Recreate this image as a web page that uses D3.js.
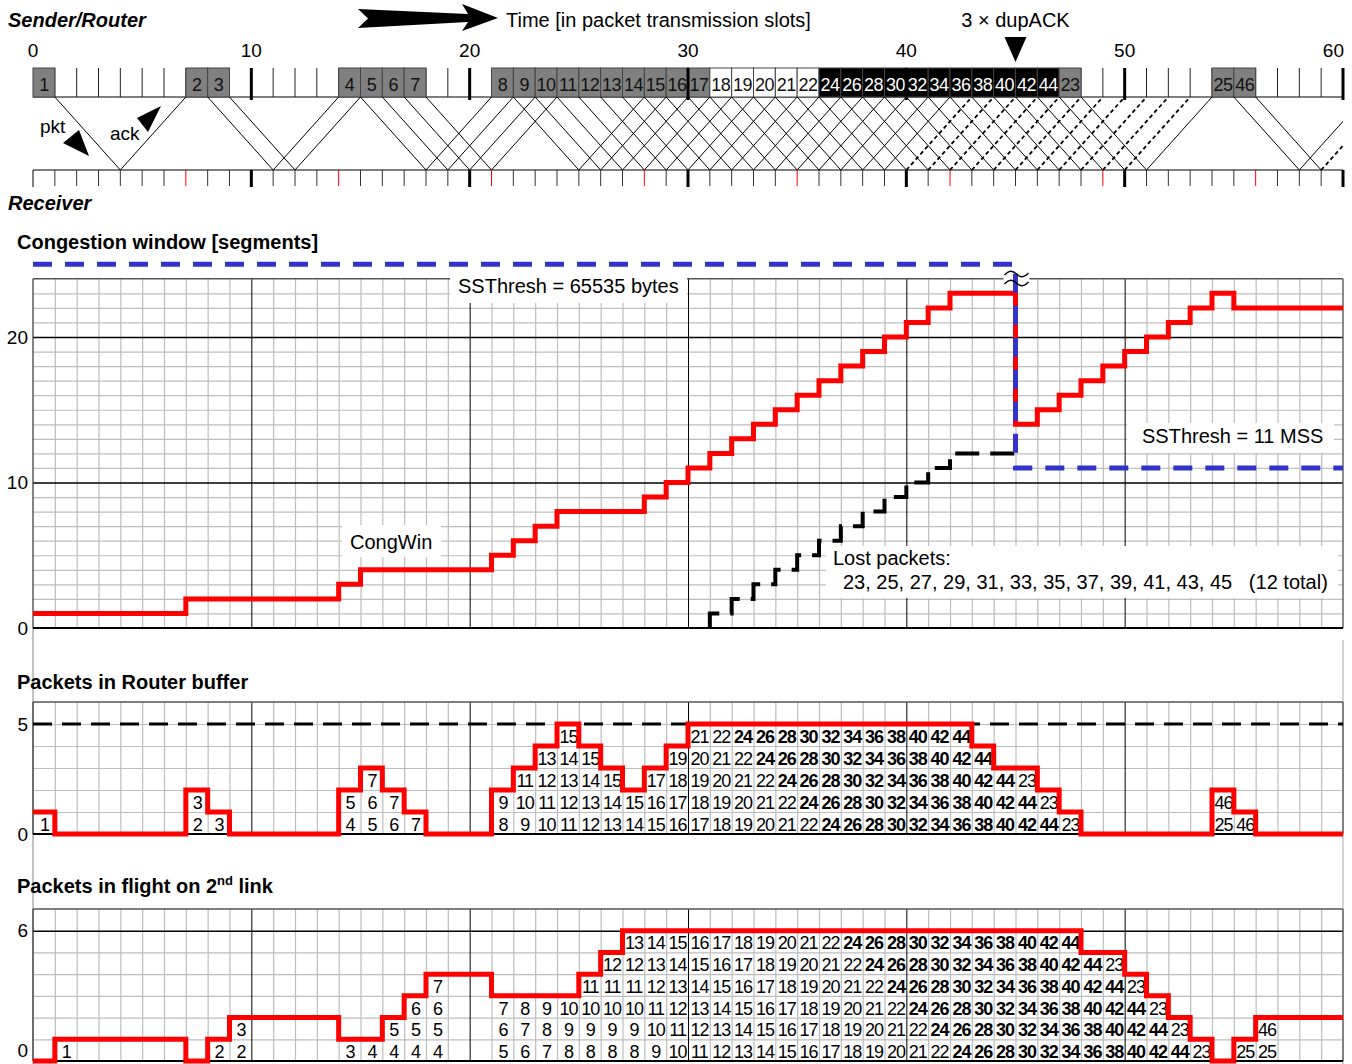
<!DOCTYPE html>
<html>
<head>
<meta charset="utf-8">
<script src="https://cdn.jsdelivr.net/npm/d3@7"></script>
<style>
  body { margin: 0; background: #fff; }
  svg text { font-family: "Liberation Sans", Arial, sans-serif; fill: #000; }
</style>
</head>
<body>
<svg id="chart" width="1352" height="1064"></svg>
<script>
// ---- data ----
// packets put on the bottleneck link, by slot
const sentSlots = [0, 7, 8, 14, 15, 16, 17, 21, 22, 23, 24, 25, 26, 27, 28, 29, 30, 31, 32, 33, 34, 35, 36, 37, 38, 39, 40, 41, 42, 43, 44, 45, 46, 47, 54, 55];
const sentPackets = [1, 2, 3, 4, 5, 6, 7, 8, 9, 10, 11, 12, 13, 14, 15, 16, 17, 18, 19, 20, 21, 22, 24, 26, 28, 30, 32, 34, 36, 38, 40, 42, 44, 23, 25, 46];
const whitePackets = [18, 19, 20, 21, 22];
const blackPackets = [24, 26, 28, 30, 32, 34, 36, 38, 40, 42, 44];
const dupAckPackets = [24, 26, 28, 30, 32, 34, 36, 38, 40, 42, 44, 46];
const rttTicks = [7, 14, 21, 28, 35, 42, 49, 56];
const oneWay = 3; // slots from router to receiver

// congestion window (step starts)
const cwndSlots = [0, 7, 14, 15, 21, 22, 23, 24, 28, 29, 30, 31, 32, 33, 34, 35, 36, 37, 38, 39, 40, 41, 42, 45, 46, 47, 48, 49, 50, 51, 52, 53, 54, 55, 60];
const cwndValues = [1, 2, 3, 4, 5, 6, 7, 8, 9, 10, 11, 12, 13, 14, 15, 16, 17, 18, 19, 20, 21, 22, 23, 14, 15, 16, 17, 18, 19, 20, 21, 22, 23, 22, 22];
// ssthresh (25 = off the scale, 65535 bytes)
const ssthreshSlots = [0, 45, 60];
const ssthreshValues = [25, 11, 11];
// cumulative lost packets
const lostSlots = [31, 31, 32, 33, 34, 35, 36, 37, 38, 39, 40, 41, 42, 45];
const lostValues = [0, 1, 2, 3, 4, 5, 6, 7, 8, 9, 10, 11, 12, 12];

// router buffer, one value per slot 0..59
const bufferCount = [1,0,0,0,0,0,0,2,1,0,0,0,0,0,2,3,2,1,0,0,0,2,3,4,5,4,3,2,3,4,5,5,5,5,5,5,5,5,5,5,5,5,5,4,3,3,2,1,0,0,0,0,0,0,2,1,0,0,0,0];
const bufferLabelSlots = [0, 7, 8, 14, 15, 16, 17, 21, 22, 23, 24, 25, 26, 27, 28, 29, 30, 31, 32, 33, 34, 35, 36, 37, 38, 39, 40, 41, 42, 43, 44, 45, 46, 47, 54, 55];
const bufferLabels = ["1", "2 3", "3", "4 5", "5 6 7", "6 7", "7", "8 9", "9 10 11", "10 11 12 13",
  "11 12 13 14 15", "12 13 14 15", "13 14 15", "14 15", "15 16 17", "16 17 18 19", "17 18 19 20 21",
  "18 19 20 21 22", "19 20 21 22 24", "20 21 22 24 26", "21 22 24 26 28", "22 24 26 28 30",
  "24 26 28 30 32", "26 28 30 32 34", "28 30 32 34 36", "30 32 34 36 38", "32 34 36 38 40",
  "34 36 38 40 42", "36 38 40 42 44", "38 40 42 44", "40 42 44", "42 44 23", "44 23", "23", "25 46", "46"];

// packets in flight on 2nd link, one value per slot 0..59
const flightCount = [0,1,1,1,1,1,1,0,1,2,2,2,2,2,1,1,2,3,4,4,4,3,3,3,3,4,5,6,6,6,6,6,6,6,6,6,6,6,6,6,6,6,6,6,6,6,6,6,5,5,4,3,2,1,0,1,2,2,2,2];
const flightLabelSlots = [1, 8, 9, 14, 15, 16, 17, 18, 21, 22, 23, 24, 25, 26, 27, 28, 29, 30, 31, 32, 33, 34, 35, 36, 37, 38, 39, 40, 41, 42, 43, 44, 45, 46, 47, 48, 49, 50, 51, 52, 53, 55, 56];
const flightLabels = ["1", "2", "2 3", "3", "4", "4 5", "4 5 6", "4 5 6 7", "5 6 7", "6 7 8", "7 8 9", "8 9 10",
  "8 9 10 11", "8 9 10 11 12", "8 9 10 11 12 13", "9 10 11 12 13 14", "10 11 12 13 14 15",
  "11 12 13 14 15 16", "12 13 14 15 16 17", "13 14 15 16 17 18", "14 15 16 17 18 19",
  "15 16 17 18 19 20", "16 17 18 19 20 21", "17 18 19 20 21 22", "18 19 20 21 22 24",
  "19 20 21 22 24 26", "20 21 22 24 26 28", "21 22 24 26 28 30", "22 24 26 28 30 32",
  "24 26 28 30 32 34", "26 28 30 32 34 36", "28 30 32 34 36 38", "30 32 34 36 38 40",
  "32 34 36 38 40 42", "34 36 38 40 42 44", "36 38 40 42 44", "38 40 42 44 23", "40 42 44 23",
  "42 44 23", "44 23", "23", "25", "25 46"];

// ---- drawing ----
const svg = d3.select("#chart");
const x = d3.scaleLinear().domain([0, 60]).range([33, 1343]);
const yc = d3.scaleLinear().domain([0, 24]).range([628, 278.8]);
const yb = d3.scaleLinear().domain([0, 6]).range([834, 702]);
const yf = d3.scaleLinear().domain([0, 7]).range([1061, 909]);
const RED = "#ff0000";
const minor = "#bdbdbd";

// sender / receiver timeline
const yTop = 97, yBot = 170, boxTop = 68;

svg.append("text").attr("x", 8).attr("y", 27).attr("font-size", 20)
  .attr("font-weight", "bold").attr("font-style", "italic").text("Sender/Router");
svg.append("text").attr("x", 8).attr("y", 210).attr("font-size", 20)
  .attr("font-weight", "bold").attr("font-style", "italic").text("Receiver");

// big time arrow
svg.append("polygon")
  .attr("points", "358,9 468,14 462,4 498,18 462,31 468,22 358,28 368,18.5")
  .attr("fill", "#000");
svg.append("text").attr("x", 506).attr("y", 27).attr("font-size", 20)
  .text("Time [in packet transmission slots]");
svg.append("text").attr("x", x(45)).attr("y", 27).attr("font-size", 20)
  .attr("text-anchor", "middle").text("3 \u00d7 dupACK");
svg.append("polygon")
  .attr("points", `${x(45) - 11},37 ${x(45) + 11},37 ${x(45)},62`).attr("fill", "#000");

// slot numbers
[0, 10, 20, 30, 40, 50, 60].forEach((v) => {
  svg.append("text").attr("x", v === 60 ? x(v) + 1 : x(v)).attr("y", 57)
    .attr("font-size", 19).attr("text-anchor", v === 60 ? "end" : "middle").text(v);
});

svg.append("line").attr("x1", x(0)).attr("x2", x(60)).attr("y1", yTop).attr("y2", yTop)
  .attr("stroke", "#000").attr("stroke-width", 1.2);
svg.append("line").attr("x1", x(0)).attr("x2", x(60)).attr("y1", yBot).attr("y2", yBot)
  .attr("stroke", "#000").attr("stroke-width", 1.2);

const slots = d3.range(0, 61);
// sender row ticks
svg.append("g").selectAll("line").data(slots.filter((d) => d % 10 !== 0)).join("line")
  .attr("x1", (d) => x(d)).attr("x2", (d) => x(d)).attr("y1", boxTop).attr("y2", yTop)
  .attr("stroke", "#222").attr("stroke-width", 1);
// receiver row ticks
svg.append("g").selectAll("line").data(slots.filter((d) => d % 10 !== 0)).join("line")
  .attr("x1", (d) => x(d)).attr("x2", (d) => x(d)).attr("y1", yBot).attr("y2", yBot + 16)
  .attr("stroke", (d) => (rttTicks.includes(d) ? RED : "#333")).attr("stroke-width", 1);

// transmitted packets
const boxes = svg.append("g");
sentSlots.forEach((s, i) => {
  const p = sentPackets[i];
  const fill = blackPackets.includes(p) ? "#000" : whitePackets.includes(p) ? "#fff" : "#808080";
  boxes.append("rect").attr("x", x(s)).attr("y", boxTop).attr("width", x(s + 1) - x(s))
    .attr("height", yTop - boxTop).attr("fill", fill).attr("stroke", "#444").attr("stroke-width", 1);
  boxes.append("text").attr("x", (x(s) + x(s + 1)) / 2).attr("y", 91).attr("font-size", 18)
    .attr("text-anchor", "middle").style("fill", blackPackets.includes(p) ? "#fff" : "#111")
    .style("letter-spacing", "-0.5px").text(p);
});

// bold decade ticks
svg.append("g").selectAll("line").data(slots.filter((d) => d % 10 === 0 && d > 0)).join("line")
  .attr("x1", (d) => x(d)).attr("x2", (d) => x(d)).attr("y1", boxTop).attr("y2", yTop + 3)
  .attr("stroke", "#000").attr("stroke-width", 3);
svg.append("g").selectAll("line").data(slots.filter((d) => d % 10 === 0)).join("line")
  .attr("x1", (d) => x(d)).attr("x2", (d) => x(d)).attr("y1", yBot).attr("y2", yBot + 17)
  .attr("stroke", "#000").attr("stroke-width", (d) => (d === 0 ? 1 : 3));

// packet and ack paths
svg.append("clipPath").attr("id", "clipTime").append("rect")
  .attr("x", x(0)).attr("y", 60).attr("width", x(60) - x(0)).attr("height", 140);
const paths = svg.append("g").attr("clip-path", "url(#clipTime)");
sentSlots.forEach((s, i) => {
  const p = sentPackets[i];
  paths.append("line").attr("x1", x(s + 1)).attr("y1", yTop)
    .attr("x2", x(s + 1 + oneWay)).attr("y2", yBot)
    .attr("stroke", "#000").attr("stroke-width", 1);
  const dup = dupAckPackets.includes(p);
  paths.append("line").attr("x1", x(s + 1 + oneWay)).attr("y1", yBot)
    .attr("x2", x(s + 1 + 2 * oneWay)).attr("y2", yTop)
    .attr("stroke", "#000").attr("stroke-width", dup ? 1.8 : 1)
    .attr("stroke-dasharray", dup ? "4,3" : null);
});

// pkt / ack annotations
svg.append("text").attr("x", 40).attr("y", 133).attr("font-size", 19).text("pkt");
svg.append("polygon").attr("points", "63,143 79,130 89,156").attr("fill", "#000");
svg.append("text").attr("x", 110).attr("y", 140).attr("font-size", 19).text("ack");
svg.append("polygon").attr("points", "137,118 161,106 148,132").attr("fill", "#000");

// ---- generic grid ----
function drawGrid(y, ymax, majors, minorVals) {
  const g = svg.append("g");
  const y0 = y(0), y1 = y(ymax);
  // minor verticals
  g.append("g").attr("transform", `translate(0,${y0})`)
    .call(d3.axisBottom(x).tickValues(slots.filter((d) => d % 10 !== 0 && d < 60))
      .tickSize(-(y0 - y1)).tickFormat(""))
    .call((a) => a.select(".domain").remove())
    .selectAll("line").attr("stroke", minor).attr("stroke-width", 1.2);
  // minor horizontals
  g.append("g").attr("transform", `translate(${x(0)},0)`)
    .call(d3.axisRight(y).tickValues(minorVals).tickSize(x(60) - x(0)).tickFormat(""))
    .call((a) => a.select(".domain").remove())
    .selectAll("line").attr("stroke", minor).attr("stroke-width", 1.2);
  // decade verticals
  g.append("g").attr("transform", `translate(0,${y0})`)
    .call(d3.axisBottom(x).tickValues([10, 20, 30, 40, 50]).tickSize(-(y0 - y1)).tickFormat(""))
    .call((a) => a.select(".domain").remove())
    .selectAll("line").attr("stroke", "#000").attr("stroke-width", 1);
  // major horizontals
  g.append("g").attr("transform", `translate(${x(0)},0)`)
    .call(d3.axisRight(y).tickValues(majors).tickSize(x(60) - x(0)).tickFormat(""))
    .call((a) => a.select(".domain").remove())
    .selectAll("line").attr("stroke", "#000").attr("stroke-width", 1.5);
  // frame
  g.append("line").attr("x1", x(0)).attr("x2", x(60)).attr("y1", y1).attr("y2", y1)
    .attr("stroke", "#555").attr("stroke-width", 1.5);
  g.append("line").attr("x1", x(60)).attr("x2", x(60)).attr("y1", y1).attr("y2", y0)
    .attr("stroke", "#666").attr("stroke-width", 1.5);
  g.append("line").attr("x1", x(0)).attr("x2", x(0)).attr("y1", y1).attr("y2", y0)
    .attr("stroke", "#333").attr("stroke-width", 1.2);
  g.append("line").attr("x1", x(0)).attr("x2", x(60)).attr("y1", y0).attr("y2", y0)
    .attr("stroke", "#000").attr("stroke-width", 2);
  return g;
}

function yLabels(y, values) {
  return svg.append("g").attr("transform", `translate(${x(0)},0)`)
    .call(d3.axisLeft(y).tickValues(values).tickSize(0).tickPadding(5).tickFormat(d3.format("d")))
    .call((a) => a.select(".domain").remove())
    .call((a) => a.selectAll("text").attr("font-size", 19)
      .attr("font-family", "Liberation Sans, Arial, sans-serif").style("fill", "#000"));
}

const stepLine = (y) => d3.line().x((d) => x(d[0])).y((d) => y(d[1])).curve(d3.curveStepAfter);
const perSlot = (arr) => arr.map((v, i) => [i, v]).concat([[60, arr[arr.length - 1]]]);

// side lines running through the lower panels
svg.append("line").attr("x1", x(0)).attr("x2", x(0)).attr("y1", 628).attr("y2", 1064)
  .attr("stroke", "#888").attr("stroke-width", 1);
svg.append("line").attr("x1", x(60)).attr("x2", x(60)).attr("y1", 640).attr("y2", 1064)
  .attr("stroke", "#aaa").attr("stroke-width", 1);

// ---- congestion window ----
svg.append("text").attr("x", 17).attr("y", 249).attr("font-size", 20).attr("font-weight", "bold")
  .text("Congestion window [segments]");
drawGrid(yc, 24, [10, 20], d3.range(1, 24).filter((d) => d % 10 !== 0));
yLabels(yc, [0, 10, 20]);

function labelBox(x0, y0, x1, y1) {
  svg.append("rect").attr("x", x0).attr("y", y0).attr("width", x1 - x0).attr("height", y1 - y0)
    .attr("fill", "#fff");
}
labelBox(450, 270, 687, 303);
svg.append("text").attr("x", 458).attr("y", 293).attr("font-size", 20).text("SSThresh = 65535 bytes");
labelBox(342, 525, 441, 557);
svg.append("text").attr("x", 350).attr("y", 549).attr("font-size", 20).text("CongWin");
labelBox(1127, 423, 1334, 453);
svg.append("text").attr("x", 1142).attr("y", 443).attr("font-size", 20).text("SSThresh = 11 MSS");
labelBox(826, 546, 1338, 598);
svg.append("text").attr("x", 833).attr("y", 565).attr("font-size", 20).text("Lost packets:");
svg.append("text").attr("x", 843).attr("y", 589).attr("font-size", 20).attr("xml:space", "preserve")
  .text("23, 25, 27, 29, 31, 33, 35, 37, 39, 41, 43, 45   (12 total)");

svg.append("path").datum(cwndSlots.map((s, i) => [s, cwndValues[i]]))
  .attr("d", stepLine(yc)).attr("fill", "none").attr("stroke", RED).attr("stroke-width", 5)
  .attr("stroke-linejoin", "miter");
svg.append("path").datum(lostSlots.map((s, i) => [s, lostValues[i]]))
  .attr("d", stepLine(yc)).attr("fill", "none").attr("stroke", "#000").attr("stroke-width", 4)
  .attr("stroke-dasharray", "24,11");
// break mark where ssthresh leaves the scale
svg.append("rect").attr("x", x(45) - 12).attr("y", 268).attr("width", 26).attr("height", 22).attr("fill", "#fff");
svg.append("path").datum(ssthreshSlots.map((s, i) => [s, ssthreshValues[i]]))
  .attr("d", stepLine(yc)).attr("fill", "none").attr("stroke", "#3333cc").attr("stroke-width", 5)
  .attr("stroke-dasharray", "19,13");
svg.append("path")
  .attr("d", `M${x(45) - 11},275 q6,-7 12,-1 t12,-1 M${x(45) - 11},284 q6,-7 12,-1 t12,-1`)
  .attr("fill", "none").attr("stroke", "#000").attr("stroke-width", 1.3);

// ---- router buffer ----
svg.append("text").attr("x", 17).attr("y", 689).attr("font-size", 20).attr("font-weight", "bold")
  .text("Packets in Router buffer");
drawGrid(yb, 6, [], [1, 2, 3, 4, 5]);
yLabels(yb, [0, 5]);
svg.append("line").attr("x1", x(0)).attr("x2", x(60)).attr("y1", yb(5)).attr("y2", yb(5))
  .attr("stroke", "#000").attr("stroke-width", 3).attr("stroke-dasharray", "19,10");

function cellLabels(y, labelSlots, labels) {
  const g = svg.append("g");
  labelSlots.forEach((s, i) => {
    labels[i].split(" ").forEach((p, k) => {
      g.append("text").attr("x", (x(s) + x(s + 1)) / 2 + 0.5).attr("y", y(k) - 3)
        .attr("font-size", 18).attr("text-anchor", "middle")
        .attr("font-weight", blackPackets.includes(+p) ? "bold" : null)
        .style("letter-spacing", "-1px").text(p);
    });
  });
}
cellLabels(yb, bufferLabelSlots, bufferLabels);
svg.append("path").datum(perSlot(bufferCount)).attr("d", stepLine(yb))
  .attr("fill", "none").attr("stroke", RED).attr("stroke-width", 5);

// ---- packets in flight ----
const ft = svg.append("text").attr("x", 17).attr("y", 893).attr("font-size", 20).attr("font-weight", "bold");
ft.append("tspan").text("Packets in flight on 2");
ft.append("tspan").attr("font-size", 13).attr("dy", -8).text("nd");
ft.append("tspan").attr("dy", 8).text(" link");
drawGrid(yf, 7, [6], [1, 2, 3, 4, 5]);
const fl = yLabels(yf, [0, 6]);
fl.selectAll(".tick").filter((d) => d === 0).select("text").attr("dy", "-0.25em");
cellLabels(yf, flightLabelSlots, flightLabels);
svg.append("path").datum(perSlot(flightCount)).attr("d", stepLine(yf))
  .attr("fill", "none").attr("stroke", RED).attr("stroke-width", 5);
</script>
</body>
</html>
